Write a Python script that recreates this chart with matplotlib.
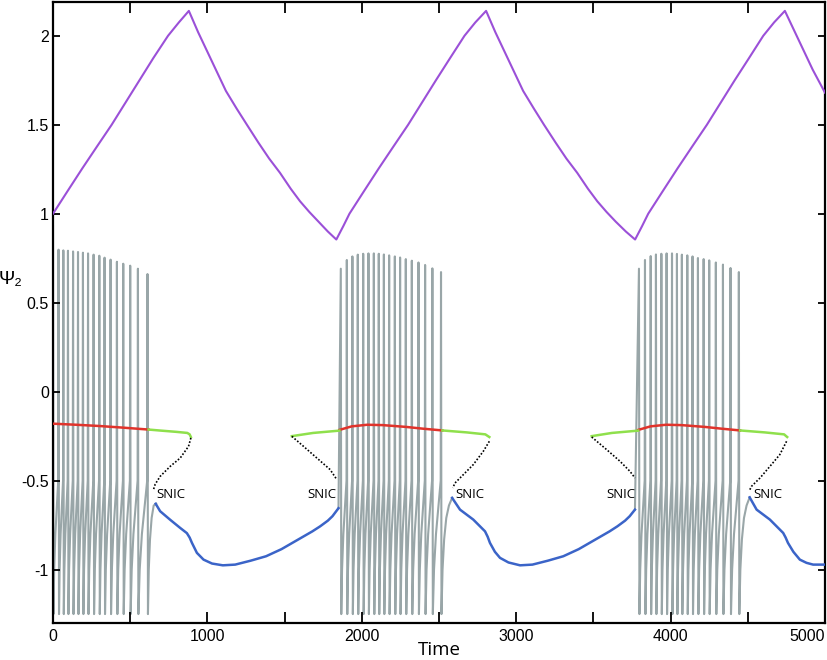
import numpy as np
import matplotlib
matplotlib.use("Agg")
import matplotlib.pyplot as plt

# ---- data ----
# slow variable (purple)
purple_t = [0, 95, 190, 285, 380, 470, 560, 650, 745, 815, 880,
            940, 1000, 1060, 1120, 1190, 1256, 1330, 1400, 1470, 1540, 1600, 1660, 1720, 1780, 1835,
            1880, 1920, 2015, 2110, 2205, 2300, 2390, 2480, 2572, 2665, 2735, 2805,
            2865, 2925, 2985, 3045, 3115, 3180, 3255, 3325, 3395, 3465, 3525, 3585, 3645, 3710, 3770,
            3815, 3855, 3950, 4045, 4140, 4235, 4325, 4415, 4508, 4600, 4670, 4740,
            4800, 4860, 4920, 5000]
purple_v = [1.0, 1.128, 1.255, 1.378, 1.5, 1.625, 1.75, 1.875, 2.0, 2.075, 2.14,
            2.02, 1.91, 1.80, 1.69, 1.59, 1.50, 1.40, 1.31, 1.23, 1.14, 1.07, 1.01, 0.955, 0.9, 0.855,
            0.93, 1.0, 1.128, 1.255, 1.378, 1.5, 1.625, 1.75, 1.875, 2.0, 2.075, 2.14,
            2.02, 1.91, 1.80, 1.69, 1.59, 1.50, 1.40, 1.31, 1.23, 1.14, 1.07, 1.01, 0.955, 0.9, 0.855,
            0.93, 1.0, 1.128, 1.255, 1.378, 1.5, 1.625, 1.75, 1.875, 2.0, 2.075, 2.14,
            2.03, 1.92, 1.81, 1.68]

# spike times and peak heights of the three bursts (grey trace)
burst1_t = [0, 36, 67, 97, 130, 162, 194, 227, 263, 300, 334, 373, 414, 455, 500, 550, 612]
burst1_top = [0.93, 0.798, 0.794, 0.792, 0.788, 0.785, 0.781, 0.777, 0.770, 0.764, 0.753,
              0.742, 0.730, 0.719, 0.708, 0.691, 0.661]
burst2_t = [1864, 1903, 1939, 1974, 2009, 2043, 2078, 2110, 2143, 2177, 2214, 2248, 2285, 2324,
            2367, 2410, 2457, 2513]
burst2_top = [0.691, 0.740, 0.760, 0.770, 0.775, 0.777, 0.777, 0.775, 0.771, 0.766, 0.760,
              0.754, 0.745, 0.736, 0.726, 0.712, 0.693, 0.672]
burst3_t = [3795, 3834, 3871, 3905, 3940, 3974, 4009, 4041, 4073, 4108, 4142, 4177, 4214, 4250,
            4293, 4339, 4388, 4442]
burst3_top = [0.691, 0.740, 0.762, 0.771, 0.775, 0.777, 0.777, 0.774, 0.770, 0.766, 0.760,
              0.751, 0.745, 0.738, 0.726, 0.714, 0.695, 0.672]
spike_floor = -1.25
# shape of the recovery between spikes: (fraction of interval, value)
recovery = [(0.15, -1.0), (0.4, -0.8), (0.7, -0.65), (1.0, -0.5)]
# shape of the recovery after the last spike of a burst
exit_shape = [(0.1, -1.0), (0.25, -0.83), (0.45, -0.71), (0.7, -0.64), (1.0, None)]

# upper branch, unstable part (red)
red_segs = [
    ([0, 150, 300, 450, 619], [-0.18, -0.186, -0.193, -0.202, -0.213]),
    ([1855, 1935, 2035, 2135, 2285, 2395, 2522], [-0.215, -0.195, -0.186, -0.188, -0.198, -0.208, -0.218]),
    ([3790, 3870, 3970, 4070, 4220, 4330, 4450], [-0.215, -0.195, -0.186, -0.188, -0.198, -0.208, -0.218]),
]
# upper branch, stable part (green)
green_segs = [
    ([619, 700, 800, 870, 885, 893], [-0.213, -0.219, -0.226, -0.232, -0.240, -0.255]),
    ([1547, 1685, 1855], [-0.25, -0.232, -0.219]),
    ([2522, 2680, 2800, 2826], [-0.218, -0.229, -0.240, -0.255]),
    ([3489, 3620, 3790], [-0.25, -0.232, -0.219]),
    ([4450, 4610, 4735, 4755], [-0.218, -0.229, -0.240, -0.255]),
]
# saddle (black, dotted)
black_segs = [
    ([893, 878, 824, 759, 694, 662, 651], [-0.26, -0.307, -0.373, -0.42, -0.476, -0.52, -0.55]),
    ([1547, 1622, 1709, 1795, 1838], [-0.251, -0.307, -0.373, -0.438, -0.494]),
    ([2826, 2787, 2722, 2658, 2604, 2589], [-0.279, -0.335, -0.41, -0.466, -0.513, -0.541]),
    ([3489, 3586, 3672, 3737, 3769], [-0.255, -0.326, -0.391, -0.448, -0.485]),
    ([4751, 4707, 4643, 4579, 4524, 4513], [-0.279, -0.354, -0.42, -0.485, -0.532, -0.551]),
]
# lower stable branch (blue)
blue_segs = [
    ([665, 694, 759, 824, 867, 885, 900, 932, 975, 1030, 1100, 1180, 1280, 1380, 1480, 1580, 1680,
      1730, 1780, 1810, 1849],
     [-0.63, -0.672, -0.72, -0.766, -0.795, -0.82, -0.85, -0.906, -0.944, -0.966, -0.976, -0.972,
      -0.95, -0.925, -0.885, -0.835, -0.785, -0.757, -0.725, -0.70, -0.655]),
    ([2585, 2636, 2722, 2798, 2815, 2830, 2862, 2895, 2950, 3025, 3105, 3205, 3305, 3405, 3505, 3605,
      3655, 3705, 3735, 3769],
     [-0.597, -0.663, -0.719, -0.785, -0.815, -0.85, -0.9, -0.934, -0.96, -0.976, -0.972, -0.95,
      -0.925, -0.885, -0.835, -0.785, -0.757, -0.725, -0.70, -0.663]),
    ([4512, 4557, 4643, 4729, 4745, 4760, 4795, 4837, 4880, 4923, 5000],
     [-0.594, -0.663, -0.719, -0.794, -0.82, -0.85, -0.9, -0.944, -0.962, -0.972, -0.972]),
]
# where the grey trace enters and leaves each burst (start point, end point)
burst_in = [None, (1849, -0.655), (3769, -0.663)]
burst_out = [(668, -0.63), (2585, -0.597), (4512, -0.594)]

snic_t = [766, 1743, 2699, 3678, 4630]
snic_v = -0.58

xtick_vals = list(range(0, 5001, 500))
xtick_labels = ["0", "", "1000", "", "2000", "", "3000", "", "4000", "", "5000"]
ytick_vals = [-1, -0.5, 0, 0.5, 1, 1.5, 2]
ytick_labels = ["-1", "-0.5", "0", "0.5", "1", "1.5", "2"]


def burst_trace(times, tops, start, end):
    t, v = [], []
    if start is not None:
        t.append(start[0])
        v.append(start[1])
    for i in range(len(times)):
        t.append(times[i])
        v.append(tops[i])
        t.append(times[i] + 3)
        v.append(spike_floor)
        if i + 1 < len(times):
            span = times[i + 1] - 2 - (times[i] + 3)
            for f, val in recovery:
                t.append(times[i] + 3 + f * span)
                v.append(val)
        else:
            span = end[0] - (times[i] + 3)
            for f, val in exit_shape:
                t.append(times[i] + 3 + f * span)
                v.append(end[1] if val is None else val)
    return t, v


GREY = "#99a6a8"
PURPLE = "#9b50d8"
RED = "#e0332b"
GREEN = "#8fe04c"
BLUE = "#3b64c8"

fig = plt.figure(figsize=(8.28, 6.6), dpi=100)
ax = fig.add_axes([0.064, 0.0561, 0.9324, 0.9409])

bursts = [(burst1_t, burst1_top), (burst2_t, burst2_top), (burst3_t, burst3_top)]
for k, (bt, btop) in enumerate(bursts):
    tt, vv = burst_trace(bt, btop, burst_in[k], burst_out[k])
    ax.plot(tt, vv, color=GREY, lw=1.5, zorder=1)

for t, v in blue_segs:
    ax.plot(t, v, color=BLUE, lw=1.8, zorder=3)
for t, v in red_segs:
    ax.plot(t, v, color=RED, lw=1.8, zorder=3)
for t, v in green_segs:
    ax.plot(t, v, color=GREEN, lw=1.8, zorder=3)
for t, v in black_segs:
    ax.plot(t, v, color="black", lw=1.2, ls=(0, (1, 1.1)), zorder=3)

ax.plot(purple_t, purple_v, color=PURPLE, lw=1.5, zorder=4)

for st in snic_t:
    ax.text(st, snic_v, "SNIC", fontsize=9.5, family=["Open Sans", "DejaVu Sans"],
            ha="center", va="center")

ax.set_xlim(0, 5000)
ax.set_ylim(-1.3, 2.19)
ax.set_xticks(xtick_vals)
ax.set_xticklabels(xtick_labels, fontsize=11.5, family=["Liberation Sans", "DejaVu Sans"])
ax.get_xticklabels()[-1].set_ha("right")
ax.set_yticks(ytick_vals)
ax.set_yticklabels(ytick_labels, fontsize=11.5, family=["Liberation Sans", "DejaVu Sans"])
ax.tick_params(axis="x", direction="in", top=True, length=8, width=1.3, pad=4)
ax.tick_params(axis="y", direction="in", right=True, length=5, width=1.3, pad=3)
for sp in ax.spines.values():
    sp.set_linewidth(1.6)

ax.set_xlabel("Time", fontsize=13.5, family=["Open Sans", "DejaVu Sans"], labelpad=-2)
fig.text(11 / 828, 1 - 279 / 660, "Ψ₂", fontsize=14, family=["Liberation Sans", "DejaVu Sans"],
         ha="center", va="center")

fig.savefig("out.png", dpi=100)
